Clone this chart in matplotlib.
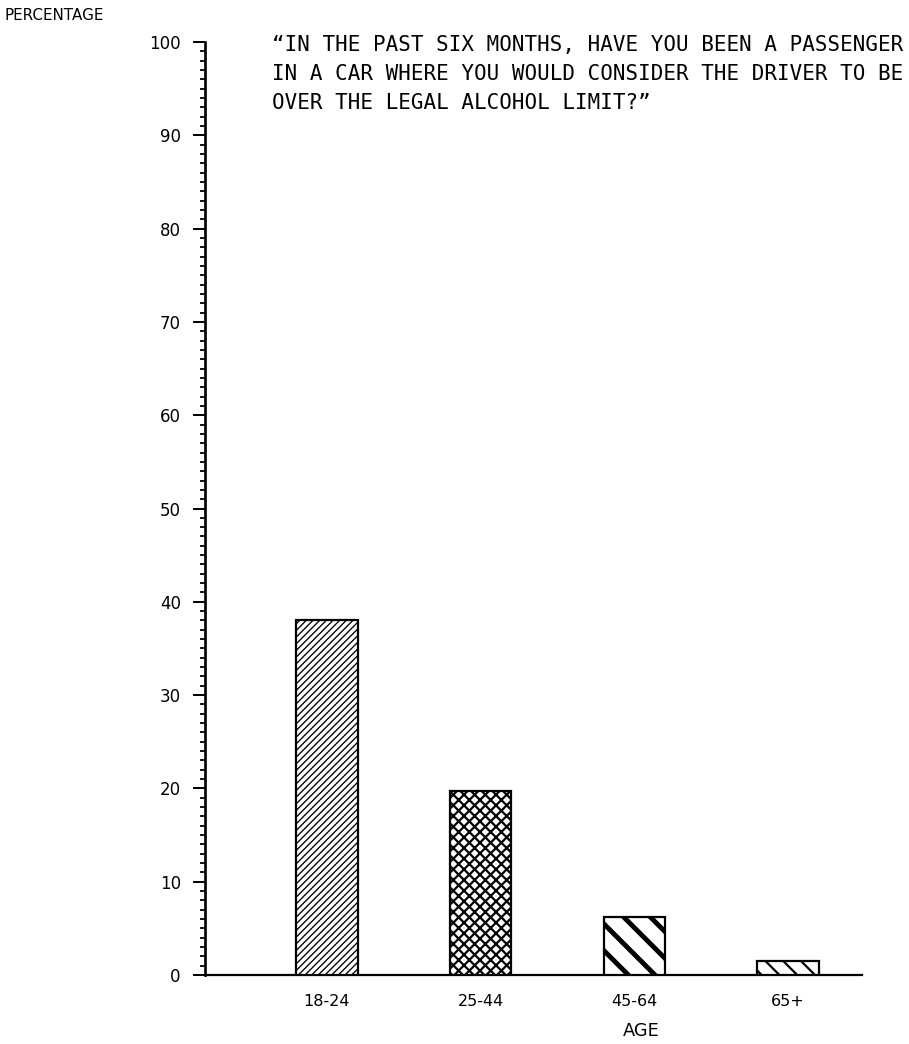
import matplotlib
matplotlib.use("Agg")
import matplotlib.pyplot as plt
from matplotlib.ticker import MultipleLocator

# ---- data ----
age_groups = ["18-24", "25-44", "45-64", "65+"]
percentages = [38.0, 19.7, 6.2, 1.5]
hatches = ["////////", "xxxxx", "\\\\", "\\\\\\"]
hatch_widths = [0.6, 1.0, 2.2, 1.0]
y_ticks = [0, 10, 20, 30, 40, 50, 60, 70, 80, 90, 100]
title_lines = [
    "\u201CIN THE PAST SIX MONTHS, HAVE YOU BEEN A PASSENGER",
    "IN A CAR WHERE YOU WOULD CONSIDER THE DRIVER TO BE",
    "OVER THE LEGAL ALCOHOL LIMIT?\u201D",
]

W, H, DPI = 909, 1044, 160
fig = plt.figure(figsize=(W / DPI, H / DPI), dpi=DPI)

def fx(px):
    return px / W

def fy(py):
    return 1 - py / H

ax_left, ax_right, ax_top, ax_bottom = 205, 862, 42, 975
ax = fig.add_axes([fx(ax_left), fy(ax_bottom), fx(ax_right - ax_left), (ax_bottom - ax_top) / H])

xs = list(range(len(age_groups)))
for x, v, h, hw in zip(xs, percentages, hatches, hatch_widths):
    plt.rcParams["hatch.linewidth"] = hw
    bars = ax.bar(x, v, width=0.40, facecolor="white", edgecolor="black",
                  linewidth=1.0, hatch=h, zorder=3)
    for b in bars:
        try:
            b.set_hatch_linewidth(hw)
        except Exception:
            pass

ax.set_xlim(-0.792, 3.48)
ax.set_ylim(0, 100)

for s in ["top", "right"]:
    ax.spines[s].set_visible(False)
ax.spines["left"].set_linewidth(1.2)
ax.spines["bottom"].set_linewidth(1.0)

ax.set_yticks(y_ticks)
ax.set_yticklabels([str(t) for t in y_ticks])
ax.yaxis.set_minor_locator(MultipleLocator(1))
ax.tick_params(axis="y", which="major", length=5.4, width=0.9, pad=5.5,
               labelsize=7.5, direction="out")
ax.tick_params(axis="y", which="minor", length=2.2, width=0.8, direction="out")

ax.set_xticks(xs)
ax.set_xticklabels(age_groups)
ax.tick_params(axis="x", length=0, pad=8.5, labelsize=7.2)

# labels
fig.text(fx(5), fy(15), "PERCENTAGE", fontsize=6.8, ha="left", va="center",
         family="DejaVu Sans")
fig.text(fx(641), fy(1031), "AGE", fontsize=8.0, ha="center", va="center",
         family="DejaVu Sans")

# title
line_y = [45, 74, 103]
for ty, line in zip(line_y, title_lines):
    fig.text(fx(272), fy(ty), line, fontsize=9.4, ha="left", va="center",
             family="DejaVu Sans Mono")

fig.savefig("out.png", dpi=DPI)
